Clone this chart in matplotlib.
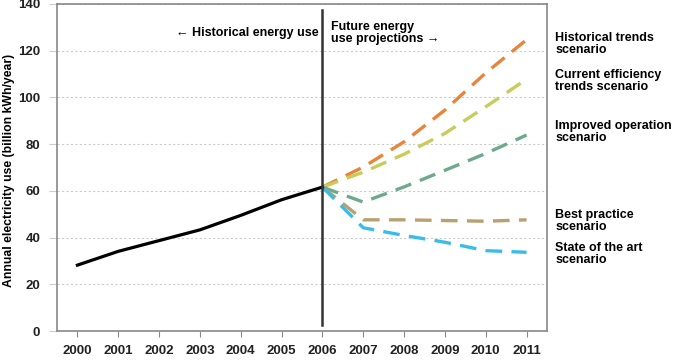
import numpy as np
import matplotlib
matplotlib.use('Agg')
import matplotlib.pyplot as plt

plt.rcParams['font.family'] = ['Liberation Sans', 'DejaVu Sans']
plt.rcParams['font.weight'] = 'bold'

# Historical energy use
hist_years = [2000, 2001, 2002, 2003, 2004, 2005, 2006]
hist_values = [28.2, 34.1, 38.7, 43.3, 49.5, 56.2, 61.6]

# Future projections (2006 start point shared)
proj_years = [2006, 2007, 2008, 2009, 2010, 2011]
historical_trends = [61.6, 70.2, 81.0, 94.6, 110.5, 124.7]
current_efficiency = [61.6, 68.0, 75.7, 84.6, 96.0, 107.8]
improved_operation = [61.6, 55.2, 61.7, 68.8, 76.0, 83.9]
best_practice = [61.6, 47.6, 47.6, 47.3, 47.0, 47.6]
state_of_art = [61.6, 44.2, 40.9, 38.0, 34.4, 33.7]

scenario_labels = ['Historical trends\nscenario', 'Current efficiency\ntrends scenario',
                   'Improved operation\nscenario', 'Best practice\nscenario',
                   'State of the art\nscenario']
scenario_colors = ['#E8853A', '#C8CC5A', '#6DAA8C', '#B8A070', '#38BDE8']
label_y = [123, 107, 85, 47, 33]

fig = plt.figure(figsize=(6.73, 3.6), dpi=100)
ax = fig.add_axes([57 / 673, 29 / 360, 490 / 673, 327 / 360])

ax.plot(hist_years, hist_values, color='black', lw=2.3, zorder=3)

series = [historical_trends, current_efficiency, improved_operation, best_practice, state_of_art]
for vals, col in zip(series, scenario_colors):
    ax.plot(proj_years, vals, color=col, lw=2.4, dashes=(5, 2.8), zorder=2)

# divider between history and projections
ax.plot([2006, 2006], [2.5, 137.5], color='#333333', lw=1.8, zorder=4)

ax.text(2005.9, 127.5, '\u2190 Historical energy use', ha='right', va='center',
        fontsize=9)
ax.text(2006.2, 127.5, 'Future energy\nuse projections \u2192', ha='left', va='center',
        fontsize=9, linespacing=1.05)

for lab, yv in zip(scenario_labels, label_y):
    ax.text(2011.7, yv, lab, ha='left', va='center', fontsize=9, linespacing=1.0,
            clip_on=False)

ax.set_xlim(1999.5, 2011.5)
ax.set_ylim(0, 140)
ax.set_xticks(range(2000, 2012))
ax.set_yticks(range(0, 141, 20))
ax.tick_params(axis='both', labelsize=9.5, colors='#222222')
ax.tick_params(axis='x', length=4, color='#888888', pad=6)
ax.tick_params(axis='y', length=6, color='#cccccc', pad=6)
ax.yaxis.grid(True, color='#cccccc', linestyle=(0, (2, 2)), lw=0.8)
ax.set_axisbelow(True)
for s in ax.spines.values():
    s.set_color('#888888')
    s.set_linewidth(1.2)

ax.set_ylabel('Annual electricity use (billion kWh/year)', fontsize=8.8,
              fontweight='bold', va='center')
ax.yaxis.set_label_coords(-48 / 490, 0.49)

fig.savefig('out.png', dpi=100)
